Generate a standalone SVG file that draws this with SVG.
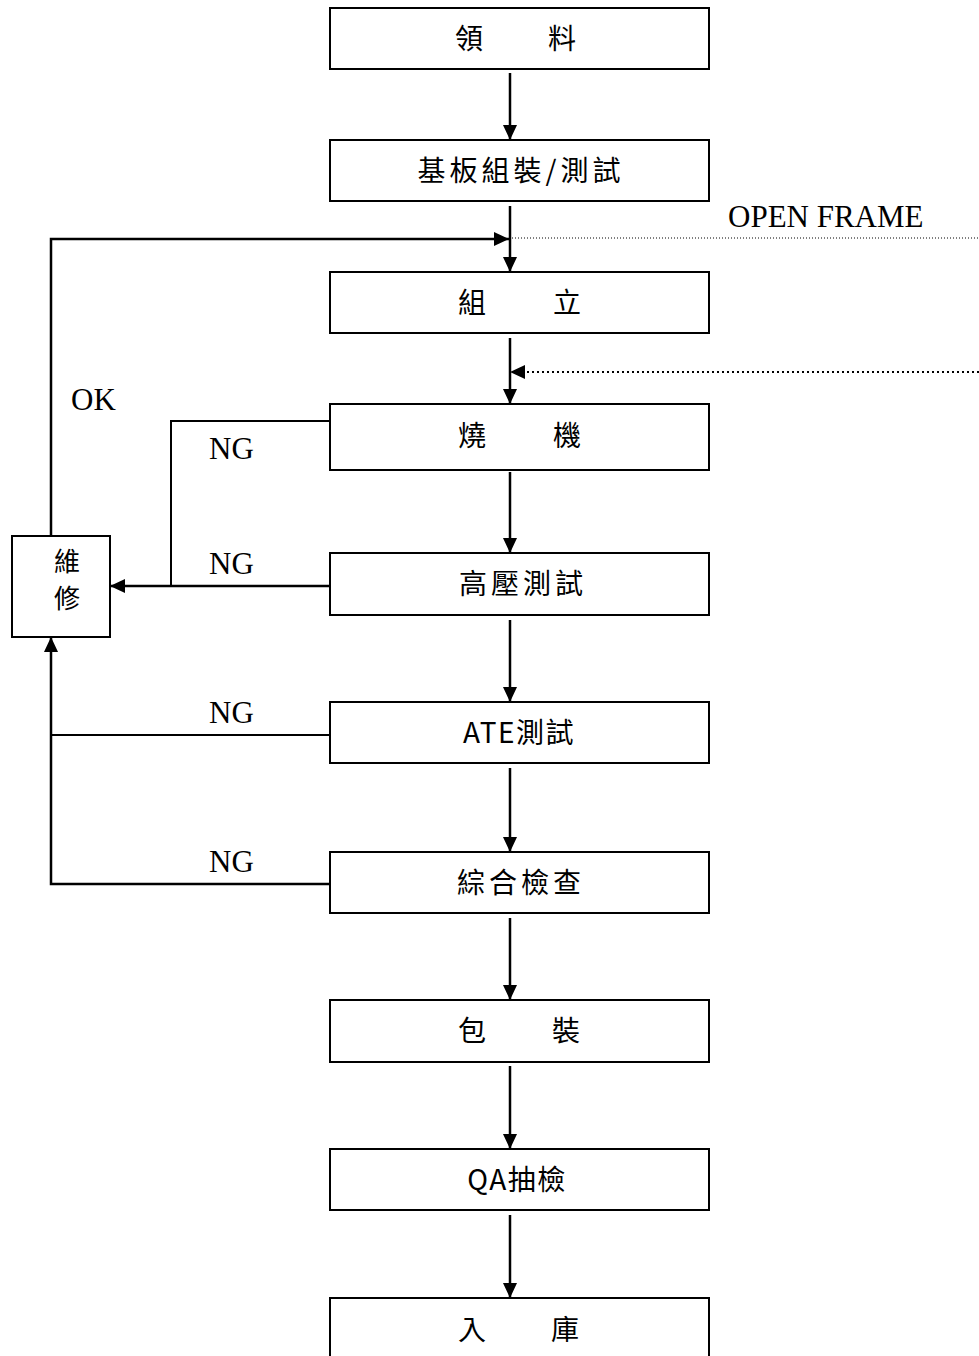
<svg xmlns="http://www.w3.org/2000/svg" width="979" height="1356" viewBox="0 0 979 1356">
<style>
.box{fill:#fff;stroke:#000;stroke-width:2}
.cjk{font-family:"Noto Sans CJK TC","Noto Sans CJK SC",sans-serif;font-size:28px;fill:#000}
.sm{font-size:26px}
.lat{font-family:"Liberation Serif",serif;font-size:31px;fill:#000}
.ln{fill:none;stroke:#000;stroke-width:2.5}
.ng{fill:none;stroke:#000;stroke-width:2}
.dot1{fill:none;stroke:#000;stroke-width:1;stroke-dasharray:1 2}
.dot2{fill:none;stroke:#000;stroke-width:2;stroke-dasharray:2 3}
.ls4{letter-spacing:4px}
.ls2{letter-spacing:1.5px}
</style>
<defs>
<marker id="ah" markerUnits="userSpaceOnUse" markerWidth="15" markerHeight="14" refX="15" refY="7" orient="auto">
<path d="M0,0 L15,7 L0,14 z" fill="#000"/>
</marker>
</defs>
<rect width="979" height="1356" fill="#fff"/>
<g id="connectors">
<line class="ln" x1="510" y1="73" x2="510" y2="140" marker-end="url(#ah)"/>
<line class="ln" x1="510" y1="206" x2="510" y2="272" marker-end="url(#ah)"/>
<line class="ln" x1="510" y1="338" x2="510" y2="404" marker-end="url(#ah)"/>
<line class="ln" x1="510" y1="472" x2="510" y2="553" marker-end="url(#ah)"/>
<line class="ln" x1="510" y1="620" x2="510" y2="702" marker-end="url(#ah)"/>
<line class="ln" x1="510" y1="768" x2="510" y2="852" marker-end="url(#ah)"/>
<line class="ln" x1="510" y1="918" x2="510" y2="1000" marker-end="url(#ah)"/>
<line class="ln" x1="510" y1="1066" x2="510" y2="1149" marker-end="url(#ah)"/>
<line class="ln" x1="510" y1="1215" x2="510" y2="1298" marker-end="url(#ah)"/>
<polyline class="ln" points="51,536 51,239 509,239" marker-end="url(#ah)"/>
<line class="dot1" x1="512" y1="238" x2="979" y2="238"/>
<line class="dot2" x1="979" y1="372" x2="510" y2="372" marker-end="url(#ah)"/>
<polyline class="ng" points="330,421 171,421 171,586"/>
<line class="ln" x1="330" y1="586" x2="110" y2="586" marker-end="url(#ah)"/>
<line class="ng" x1="330" y1="735" x2="51" y2="735"/>
<polyline class="ln" points="330,884 51,884 51,637" marker-end="url(#ah)"/>
<text class="lat" x="728" y="227">OPEN FRAME</text>
<text class="lat" x="71" y="410">OK</text>
<text class="lat" x="209" y="459">NG</text>
<text class="lat" x="209" y="574">NG</text>
<text class="lat" x="209" y="723">NG</text>
<text class="lat" x="209" y="872">NG</text>
</g>
<g id="n1"><rect class="box" x="330" y="8" width="379" height="61"/><text class="cjk" text-anchor="middle" y="49"><tspan x="469">領</tspan><tspan x="562">料</tspan></text></g>
<g id="n2"><rect class="box" x="330" y="140" width="379" height="61"/><text class="cjk ls4" x="521" y="181" text-anchor="middle">基板組裝/測試</text></g>
<g id="n3"><rect class="box" x="330" y="272" width="379" height="61"/><text class="cjk" text-anchor="middle" y="313"><tspan x="472">組</tspan><tspan x="567">立</tspan></text></g>
<g id="n4"><rect class="box" x="330" y="404" width="379" height="66"/><text class="cjk" text-anchor="middle" y="446"><tspan x="472">燒</tspan><tspan x="567">機</tspan></text></g>
<g id="n5"><rect class="box" x="330" y="553" width="379" height="62"/><text class="cjk ls4" x="523" y="594" text-anchor="middle">高壓測試</text></g>
<g id="n6"><rect class="box" x="330" y="702" width="379" height="61"/><text class="cjk ls2" x="519" y="743" text-anchor="middle">ATE測試</text></g>
<g id="n7"><rect class="box" x="330" y="852" width="379" height="61"/><text class="cjk ls4" x="521" y="893" text-anchor="middle">綜合檢查</text></g>
<g id="n8"><rect class="box" x="330" y="1000" width="379" height="62"/><text class="cjk" text-anchor="middle" y="1041"><tspan x="472">包</tspan><tspan x="566">裝</tspan></text></g>
<g id="n9"><rect class="box" x="330" y="1149" width="379" height="61"/><text class="cjk ls2" x="517" y="1190" text-anchor="middle">QA抽檢</text></g>
<g id="n10"><rect class="box" x="330" y="1298" width="379" height="80"/><text class="cjk" text-anchor="middle" y="1340"><tspan x="472">入</tspan><tspan x="565">庫</tspan></text></g>
<g id="n11"><rect class="box" x="12" y="536" width="98" height="101"/><text class="cjk sm" x="67" y="571" text-anchor="middle">維</text><text class="cjk sm" x="67" y="608" text-anchor="middle">修</text></g>
</svg>
